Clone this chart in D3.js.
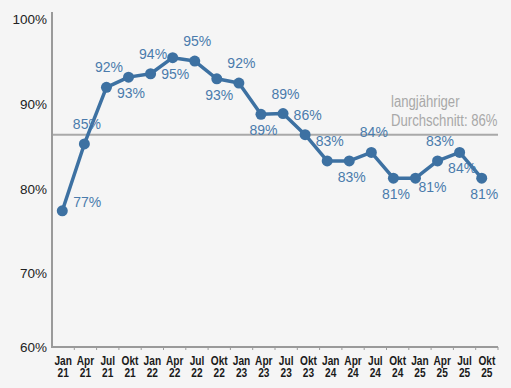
<!DOCTYPE html>
<html>
<head>
<meta charset="utf-8">
<script src="https://cdn.jsdelivr.net/npm/d3@7"></script>
<style>
  html, body { margin: 0; padding: 0; background: #f5f5f5; }
  svg { display: block; }
</style>
</head>
<body>
<div id="chart"></div>
<script>
// ---- data ----
const months = ["Jan","Apr","Jul","Okt","Jan","Apr","Jul","Okt","Jan","Apr","Jul","Okt","Jan","Apr","Jul","Okt","Jan","Apr","Jul","Okt"];
const years  = ["21","21","21","21","22","22","22","22","23","23","23","23","24","24","24","24","25","25","25","25"];
const values = [77.4, 85.3, 92.0, 93.2, 93.6, 95.5, 95.1, 93.0, 92.5, 88.8, 88.9, 86.4, 83.3, 83.3, 84.3, 81.25, 81.25, 83.3, 84.3, 81.25];
const valueLabels = [77, 85, 92, 93, 94, 95, 95, 93, 92, 89, 89, 86, 83, 83, 84, 81, 81, 83, 84, 81];
const labelPlacement = ["right","above","above","below","above","below","above","below","above","below","above","above","above","below","above","below","rightLow","above","below","below"];
const yTickValues = [60, 70, 80, 90, 100];
const average = 86.4;
const averageLabel = ["langjähriger", "Durchschnitt: 86%"];

// ---- layout ----
const W = 511, H = 388;
const mLeft = 52, mRight = 498, mTop = 12, mBottom = 347;

const svg = d3.select("#chart").append("svg")
  .attr("width", W).attr("height", H)
  .style("background", "#f5f5f5");

const cats = months.map((m, i) => m + " " + years[i]);

const xBand = d3.scaleBand().domain(cats).range([mLeft, mRight]).paddingInner(0).paddingOuter(0);
const xPoint = d3.scalePoint().domain(cats).range([62.3, 481.7]);
const yMin = 61.3;
const y = d3.scaleLinear().domain([yMin, 100.9]).range([mBottom, mTop]);

const sans = "'Liberation Sans', Arial, Helvetica, sans-serif";

// average line
svg.append("line")
  .attr("x1", mLeft).attr("x2", mRight)
  .attr("y1", y(average)).attr("y2", y(average))
  .attr("stroke", "#a9a9a9").attr("stroke-width", 2);

svg.append("g")
  .attr("transform", `translate(391,${y(average) - 28}) scale(0.82,1)`)
  .append("text")
  .attr("font-family", sans).attr("font-size", 16)
  .attr("fill", "#a8a8a8")
  .selectAll("tspan").data(averageLabel).join("tspan")
  .attr("x", 0).attr("y", (d, i) => i * 19.5)
  .text(d => d);

// y axis line
svg.append("line")
  .attr("x1", mLeft).attr("x2", mLeft)
  .attr("y1", mTop).attr("y2", mBottom + 1)
  .attr("stroke", "#9a9a9a").attr("stroke-width", 2);

// y tick labels
svg.append("g").selectAll("text").data(yTickValues).join("text")
  .attr("x", 47)
  .attr("y", d => y(Math.max(d, yMin)))
  .attr("dy", "0.36em")
  .attr("text-anchor", "end")
  .attr("font-family", sans).attr("font-size", 13.5)
  .attr("fill", "#222")
  .text(d => d + "%");

// x axis
const xAxisG = svg.append("g").attr("transform", `translate(0,${mBottom})`);
xAxisG.append("line")
  .attr("x1", mLeft).attr("x2", mRight)
  .attr("stroke", "#9a9a9a").attr("stroke-width", 2);
const tickXs = cats.map(c => xBand(c)).concat([xBand(cats[cats.length - 1]) + xBand.bandwidth()]);
xAxisG.selectAll("line.tick").data(tickXs.slice(1)).join("line")
  .attr("class", "tick")
  .attr("x1", d => d).attr("x2", d => d)
  .attr("y1", 0).attr("y2", 3)
  .attr("stroke", "#9a9a9a").attr("stroke-width", 1);

const xl = xAxisG.selectAll("g.xl").data(cats).join("g")
  .attr("class", "xl")
  .attr("transform", d => `translate(${xBand(d) + xBand.bandwidth() / 2},0) scale(0.78,1)`)
  .append("text")
  .attr("text-anchor", "middle")
  .attr("font-family", sans).attr("font-size", 13).attr("font-weight", "bold")
  .attr("fill", "#1a1a1a");
xl.append("tspan")
  .attr("x", 0).attr("y", 18.5)
  .text((d, i) => months[i]);
xl.append("tspan")
  .attr("x", 0).attr("y", 30)
  .text((d, i) => years[i]);

// line
const lineColor = "#3d71a2";
const line = d3.line().x((d, i) => xPoint(cats[i])).y(d => y(d));
svg.append("path")
  .datum(values)
  .attr("d", line)
  .attr("fill", "none")
  .attr("stroke", lineColor)
  .attr("stroke-width", 3.5)
  .attr("stroke-linejoin", "round");

svg.append("g").selectAll("circle").data(values).join("circle")
  .attr("cx", (d, i) => xPoint(cats[i]))
  .attr("cy", d => y(d))
  .attr("r", 5.5)
  .attr("fill", lineColor);

// data labels
const offsets = {
  above: [2.5, -20],
  below: [2.5, 16],
  right: [25, -9],
  rightLow: [17, 9]
};
svg.append("g").selectAll("text").data(values).join("text")
  .attr("x", (d, i) => xPoint(cats[i]) + offsets[labelPlacement[i]][0])
  .attr("y", (d, i) => y(d) + offsets[labelPlacement[i]][1])
  .attr("dy", "0.36em")
  .attr("text-anchor", "middle")
  .attr("font-family", sans).attr("font-size", 14)
  .attr("fill", "#4a7bac")
  .text((d, i) => valueLabels[i] + "%");
</script>
</body>
</html>
